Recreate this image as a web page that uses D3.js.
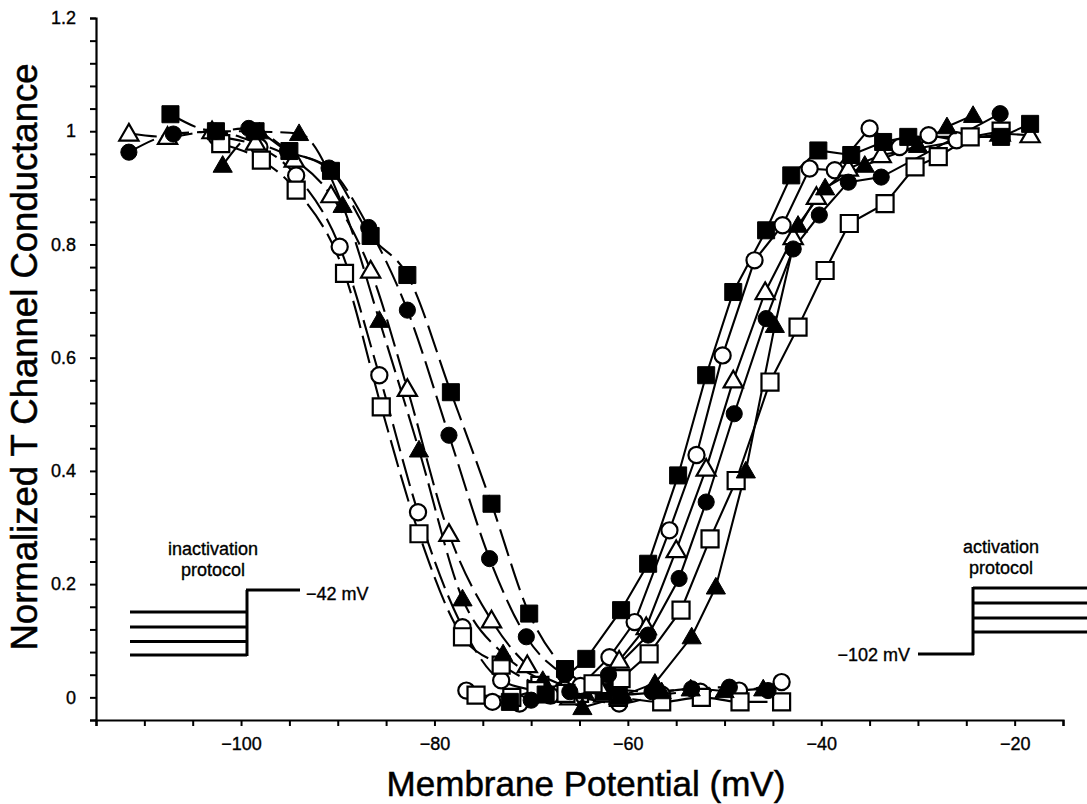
<!DOCTYPE html>
<html>
<head>
<meta charset="utf-8">
<script src="https://cdn.jsdelivr.net/npm/d3@7/dist/d3.min.js"></script>
<style>
  html, body { margin: 0; padding: 0; background: #fff; }
  svg { display: block; }
  text { font-family: "Liberation Sans", Arial, Helvetica, sans-serif; fill: #000; stroke: #000; stroke-width: 0.35px; }
</style>
</head>
<body>
<svg id="chart" width="1087" height="804"></svg>
<script>
// ---- axis ticks ----
const xTickValues = [-100, -80, -60, -40, -20];
const xTickLabels = ["\u2212100", "\u221280", "\u221260", "\u221240", "\u221220"];
const yTickValues = [0, 0.2, 0.4, 0.6, 0.8, 1, 1.2];
const yTickLabels = ["0", "0.2", "0.4", "0.6", "0.8", "1", "1.2"];

// steady-state inactivation (prepulse potential, normalized conductance)
const inactFilledSquareV = [-107.3, -102.6, -98.5, -95.0, -90.7, -86.6, -82.8, -78.3, -74.1, -70.2, -66.5, -62.5];
const inactFilledSquareG = [1.03, 1.00, 1.00, 0.965, 0.93, 0.815, 0.746, 0.539, 0.342, 0.148, 0.05, 0.01];
const inactFilledCircleV = [-111.6, -107.0, -102.6, -99.2, -95.2, -90.9, -86.8, -82.8, -78.5, -74.3, -70.5, -66.5, -61.5, -57.5, -53.4, -49.5, -45.5];
const inactFilledCircleG = [0.963, 0.995, 1.0, 1.005, 0.965, 0.935, 0.83, 0.684, 0.463, 0.245, 0.107, 0.04, 0.015, 0.01, 0.015, 0.018, 0.012];
const inactFilledTriangleV = [-101.9, -98.1, -94.0, -89.5, -85.7, -81.6, -77.1, -72.9, -68.8, -64.5, -60.5, -56.5, -53.5, -50.0, -46.0];
const inactFilledTriangleG = [0.94, 0.999, 0.996, 0.869, 0.666, 0.437, 0.174, 0.077, 0.03, 0.01, 0.005, 0.01, 0.015, 0.012, 0.015];
const inactOpenCircleV = [-102.5, -98.1, -94.3, -89.8, -85.7, -81.7, -77.1, -73.1, -69.0, -65.0, -60.9, -56.5, -52.5, -48.5, -44.1];
const inactOpenCircleG = [0.99, 0.972, 0.922, 0.796, 0.569, 0.327, 0.124, 0.03, 0.01, 0.0, -0.011, 0.005, 0.01, 0.012, 0.027];
const inactOpenTriangleV = [-111.6, -107.6, -103.0, -98.5, -94.5, -90.7, -86.6, -82.8, -78.5, -74.1, -70.4, -66.5, -62.5];
const inactOpenTriangleG = [0.996, 0.99, 1.0, 0.98, 0.95, 0.887, 0.754, 0.545, 0.289, 0.136, 0.057, 0.02, 0.005];
const inactOpenSquareV = [-102.1, -97.9, -94.3, -89.3, -85.5, -81.6, -77.1, -73.1, -69.1, -65.0, -61.0, -56.5, -52.4, -48.4, -44.1];
const inactOpenSquareG = [0.978, 0.949, 0.896, 0.749, 0.513, 0.289, 0.107, 0.057, 0.021, 0.007, 0.0, -0.008, 0.0, -0.008, -0.008];

// activation (test potential, normalized conductance)
const actFilledSquareV = [-72.2, -68.5, -64.3, -60.7, -57.9, -54.8, -51.9, -49.1, -45.7, -43.1, -40.3, -36.9, -33.6, -31.0, -21.4, -18.4];
const actFilledSquareG = [-0.008, 0.005, 0.068, 0.154, 0.236, 0.392, 0.569, 0.716, 0.825, 0.922, 0.966, 0.958, 0.981, 0.99, 0.99, 1.013];
const actFilledCircleV = [-70.0, -66.0, -62.0, -57.9, -54.7, -51.9, -49.0, -45.7, -42.9, -40.2, -37.2, -33.8, -21.5];
const actFilledCircleG = [-0.005, 0.01, 0.04, 0.11, 0.21, 0.345, 0.501, 0.669, 0.792, 0.852, 0.91, 0.919, 1.031];
const actFilledTriangleV = [-64.7, -61.0, -57.2, -53.4, -50.9, -47.8, -44.8, -42.4, -39.6, -35.5, -30.0, -27.0, -24.3];
const actFilledTriangleG = [-0.018, 0.0, 0.025, 0.107, 0.195, 0.40, 0.657, 0.834, 0.90, 0.94, 0.975, 1.008, 1.028];
const actOpenCircleV = [-76.7, -74.0, -71.2, -68.0, -64.9, -61.9, -59.3, -55.7, -52.9, -50.2, -46.9, -44.0, -41.2, -38.6, -35.0, -31.9, -28.9, -26.0];
const actOpenCircleG = [0.012, -0.008, -0.011, 0.003, 0.02, 0.071, 0.133, 0.295, 0.428, 0.604, 0.772, 0.834, 0.934, 0.931, 1.005, 0.972, 0.993, 0.984];
const actOpenTriangleV = [-66.0, -63.0, -60.9, -58.1, -55.0, -51.9, -49.1, -45.8, -42.9, -40.5, -37.2, -33.8, -21.5, -18.4];
const actOpenTriangleG = [0.0, 0.02, 0.065, 0.124, 0.26, 0.404, 0.56, 0.716, 0.813, 0.884, 0.934, 0.958, 0.996, 0.993];
const actOpenSquareV = [-75.7, -72.0, -69.5, -66.4, -63.6, -60.7, -57.8, -54.5, -51.5, -48.8, -45.3, -42.4, -39.6, -37.1, -33.4, -30.3, -27.9, -24.6, -21.4];
const actOpenSquareG = [0.004, 0.0, 0.012, 0.007, 0.024, 0.033, 0.077, 0.154, 0.28, 0.383, 0.557, 0.654, 0.754, 0.837, 0.872, 0.937, 0.955, 0.99, 1.0];

// ---- inset labels ----
const inactivationLabel = ["inactivation", "protocol"];
const activationLabel = ["activation", "protocol"];
const inactivationHold = "\u221242 mV";
const activationHold = "\u2212102 mV";

// ---- build series table ----
const zip = (v, g) => v.map((d, i) => ({ v: d, g: g[i] }));
const inactivation = [
  { shape: "square", filled: true, pts: zip(inactFilledSquareV, inactFilledSquareG) },
  { shape: "circle", filled: true, pts: zip(inactFilledCircleV, inactFilledCircleG) },
  { shape: "triangle", filled: true, pts: zip(inactFilledTriangleV, inactFilledTriangleG) },
  { shape: "circle", filled: false, pts: zip(inactOpenCircleV, inactOpenCircleG) },
  { shape: "triangle", filled: false, pts: zip(inactOpenTriangleV, inactOpenTriangleG) },
  { shape: "square", filled: false, pts: zip(inactOpenSquareV, inactOpenSquareG) }
];
const activation = [
  { shape: "square", filled: true, pts: zip(actFilledSquareV, actFilledSquareG) },
  { shape: "circle", filled: true, pts: zip(actFilledCircleV, actFilledCircleG) },
  { shape: "triangle", filled: true, pts: zip(actFilledTriangleV, actFilledTriangleG) },
  { shape: "circle", filled: false, pts: zip(actOpenCircleV, actOpenCircleG) },
  { shape: "triangle", filled: false, pts: zip(actOpenTriangleV, actOpenTriangleG) },
  { shape: "square", filled: false, pts: zip(actOpenSquareV, actOpenSquareG) }
];

// ---- layout ----
const svg = d3.select("#chart");
svg.append("rect").attr("width", 1087).attr("height", 804).attr("fill", "#fff");

const x = d3.scaleLinear().domain([-115, -15]).range([96, 1063]);
const y = d3.scaleLinear().domain([-0.04, 1.2]).range([720, 18]);

// ---- axes ----
const xAxis = d3.axisBottom(x)
  .tickValues(d3.range(-115, -14.9, 5))
  .tickSize(6).tickSizeOuter(6).tickPadding(11)
  .tickFormat(d => { const i = xTickValues.indexOf(Math.round(d)); return i >= 0 ? xTickLabels[i] : ""; });
const gx = svg.append("g").attr("transform", `translate(0,${y(-0.04)})`).call(xAxis);

const yMinor = d3.range(0, 32).map(i => +(-0.04 + i * 0.04).toFixed(2));
const yAxis = d3.axisLeft(y)
  .tickValues(yMinor)
  .tickSize(6).tickSizeOuter(6).tickPadding(14)
  .tickFormat(d => { const i = yTickValues.findIndex(t => Math.abs(t - d) < 1e-6); return i >= 0 ? yTickLabels[i] : ""; });
const gy = svg.append("g").attr("transform", `translate(${x(-115)},0)`).call(yAxis);

[gx, gy].forEach(g => {
  g.select(".domain").attr("stroke", "#000").attr("stroke-width", 2.2);
  g.selectAll(".tick line").attr("stroke", "#000").attr("stroke-width", 2);
  g.selectAll(".tick text").attr("font-size", 18).attr("font-family", "Liberation Sans, Arial, sans-serif").attr("fill", "#000");
});

// ---- axis titles ----
svg.append("text")
  .attr("x", 586).attr("y", 796)
  .attr("text-anchor", "middle")
  .attr("font-size", 35)
  .style("stroke-width", "0.5px")
  .text("Membrane Potential (mV)");

svg.append("text")
  .attr("transform", "translate(37,357) rotate(-90)")
  .attr("text-anchor", "middle")
  .attr("font-size", 36.5)
  .style("stroke-width", "0.5px")
  .text("Normalized T Channel Conductance");

// ---- curves ----
const inactLine = d3.line().x(d => x(d.v)).y(d => y(d.g)).curve(d3.curveMonotoneX);
const actLine = d3.line().x(d => x(d.v)).y(d => y(d.g)).curve(d3.curveLinear);

const lines = svg.append("g").attr("fill", "none").attr("stroke", "#000").attr("stroke-width", 2.1);
inactivation.forEach(s => {
  lines.append("path").attr("d", inactLine(s.pts)).attr("stroke-dasharray", "28,8");
});
activation.forEach(s => {
  lines.append("path").attr("d", actLine(s.pts));
});

// ---- markers ----
const symbolFor = { square: d3.symbolSquare, circle: d3.symbolCircle, triangle: d3.symbolTriangle };
const sizeFor = { square: 290, circle: 205, triangle: 160 };
const marks = svg.append("g");
function drawMarkers(s) {
  const sym = d3.symbol().type(symbolFor[s.shape]).size(sizeFor[s.shape]);
  marks.selectAll(null).data(s.pts).join("path")
    .attr("transform", d => `translate(${x(d.v)},${y(d.g) + (s.shape === "triangle" ? 1.5 : 0)})`)
    .attr("d", sym)
    .attr("fill", s.filled ? "#000" : "#fff")
    .attr("stroke", "#000")
    .attr("stroke-width", s.filled ? 1 : 2.2);
}
// open markers beneath filled ones in each family
[inactivation, activation].forEach(group => {
  group.filter(s => !s.filled).forEach(drawMarkers);
  group.filter(s => s.filled).forEach(drawMarkers);
});

// ---- inactivation protocol inset ----
const inset = svg.append("g").attr("stroke", "#000").attr("stroke-width", 3).attr("fill", "none");
const inactLevels = [612, 627, 641.5, 655];
inactLevels.forEach(yy => inset.append("line").attr("x1", 130).attr("x2", 247).attr("y1", yy).attr("y2", yy));
inset.append("line").attr("x1", 247).attr("x2", 247).attr("y1", 656).attr("y2", 590);
inset.append("line").attr("x1", 246).attr("x2", 300).attr("y1", 590).attr("y2", 590);
svg.append("text").attr("x", 306).attr("y", 600).attr("font-size", 18).text(inactivationHold);
inactivationLabel.forEach((t, i) => svg.append("text")
  .attr("x", 213).attr("y", 555 + i * 21).attr("text-anchor", "middle").attr("font-size", 18).text(t));

// ---- activation protocol inset ----
const actLevels = [588, 603, 618, 632];
inset.append("line").attr("x1", 918).attr("x2", 974).attr("y1", 654).attr("y2", 654);
inset.append("line").attr("x1", 973).attr("x2", 973).attr("y1", 655).attr("y2", 587);
actLevels.forEach(yy => inset.append("line").attr("x1", 973).attr("x2", 1087).attr("y1", yy).attr("y2", yy));
svg.append("text").attr("x", 910).attr("y", 661).attr("text-anchor", "end").attr("font-size", 18).text(activationHold);
activationLabel.forEach((t, i) => svg.append("text")
  .attr("x", 1001).attr("y", 553 + i * 21).attr("text-anchor", "middle").attr("font-size", 18).text(t));
</script>
</body>
</html>
